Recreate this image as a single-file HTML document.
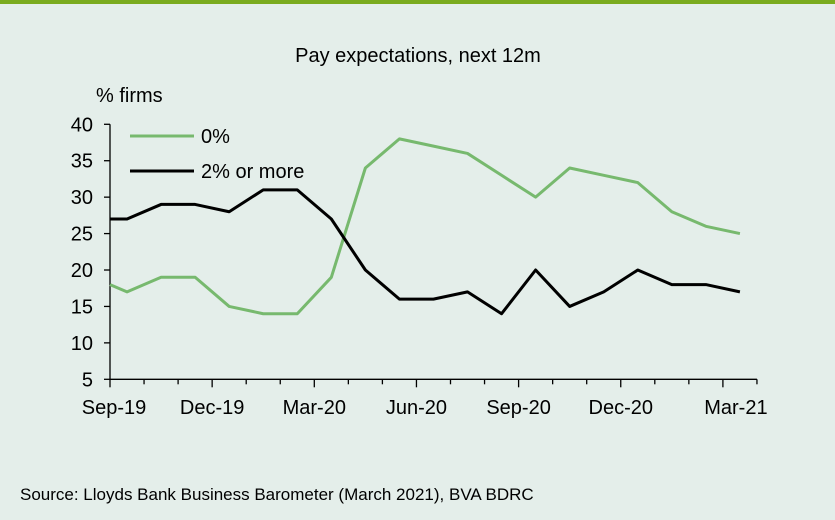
<!DOCTYPE html>
<html><head><meta charset="utf-8"><style>
body{margin:0;background:#e4eeea;}
svg{display:block;font-family:"Liberation Sans",Arial,sans-serif;}
</style></head><body>
<svg width="835" height="520">
<rect x="0" y="0" width="835" height="520" fill="#e4eeea"/>
<rect x="0" y="0" width="835" height="4" fill="#7aab1f"/>
<text x="418" y="62" font-size="20" text-anchor="middle" fill="#000">Pay expectations, next 12m</text>
<text x="96" y="102" font-size="20" fill="#000">% firms</text>
<g id="axes"></g>
<g id="series"></g>
<g>
<line x1="130" y1="136" x2="194" y2="136" stroke="#77b96e" stroke-width="3"/>
<text x="201" y="143" font-size="20">0%</text>
<line x1="130" y1="171" x2="194" y2="171" stroke="#000" stroke-width="3"/>
<text x="201" y="178" font-size="20">2% or more</text>
</g>
<text x="20" y="500" font-size="17">Source: Lloyds Bank Business Barometer (March 2021), BVA BDRC</text>
</svg>
<script>
const xLabels=["Sep-19","Dec-19","Mar-20","Jun-20","Sep-20","Dec-20","Mar-21"];
const yTicks=[5,10,15,20,25,30,35,40];
const monthPos=[0,0.5,1.5,2.5,3.5,4.5,5.5,6.5,7.5,8.5,9.5,10.5,11.5,12.5,13.5,14.5,15.5,16.5,17.5,18.5];
const zeroPct=[18,17,19,19,15,14,14,19,34,38,37,36,33,30,34,33,32,28,26,25];
const twoPlus=[27,27,29,29,28,31,31,27,20,16,16,17,14,20,15,17,20,18,18,17];
const ns="http://www.w3.org/2000/svg";
const X0=110,MW=34.05,Y0=379.3,YMIN=5,YS=7.286,NM=19;
const xs=m=>X0+m*MW, ys=v=>Y0-(v-YMIN)*YS;
const ax=document.getElementById('axes'),se=document.getElementById('series');
function mk(t,a,p){const e=document.createElementNS(ns,t);for(const k in a)e.setAttribute(k,a[k]);p.appendChild(e);return e;}
let e=mk('line',{x1:X0,y1:ys(40),x2:X0,y2:Y0,stroke:'#000','stroke-width':1.3},ax);


e=mk('line',{x1:X0,y1:Y0,x2:xs(NM),y2:Y0,stroke:'#000','stroke-width':1.3},ax);


yTicks.forEach(v=>{
 mk('line',{x1:X0-6,y1:ys(v),x2:X0,y2:ys(v),stroke:'#000','stroke-width':1.3},ax);
 const t=mk('text',{x:93,y:ys(v)+7,'font-size':20,'text-anchor':'end'},ax);t.textContent=v;
 
 
});
for(let m=0;m<=NM;m++){
 const maj=m%3===0&&m<NM;
 mk('line',{x1:xs(m),y1:Y0,x2:xs(m),y2:Y0+(maj?8:5),stroke:'#000','stroke-width':1.3},ax);
}
xLabels.forEach((l,i)=>{
 const t=mk('text',{x:xs(i*3)+(i==6?13:(i==0?4:0)),y:414,'font-size':20,'text-anchor':'middle'},ax);t.textContent=l;
 
 
});
function line(vals,col,name){
 const pts=vals.map((v,i)=>xs(monthPos[i])+','+ys(v)).join(' ');
 const p=mk('polyline',{points:pts,fill:'none',stroke:col,'stroke-width':3,'stroke-linejoin':'round'},se);
 
 
}
line(zeroPct,'#77b96e','line-0pct');
line(twoPlus,'#000','line-2pct-or-more');
</script>
</body></html>
